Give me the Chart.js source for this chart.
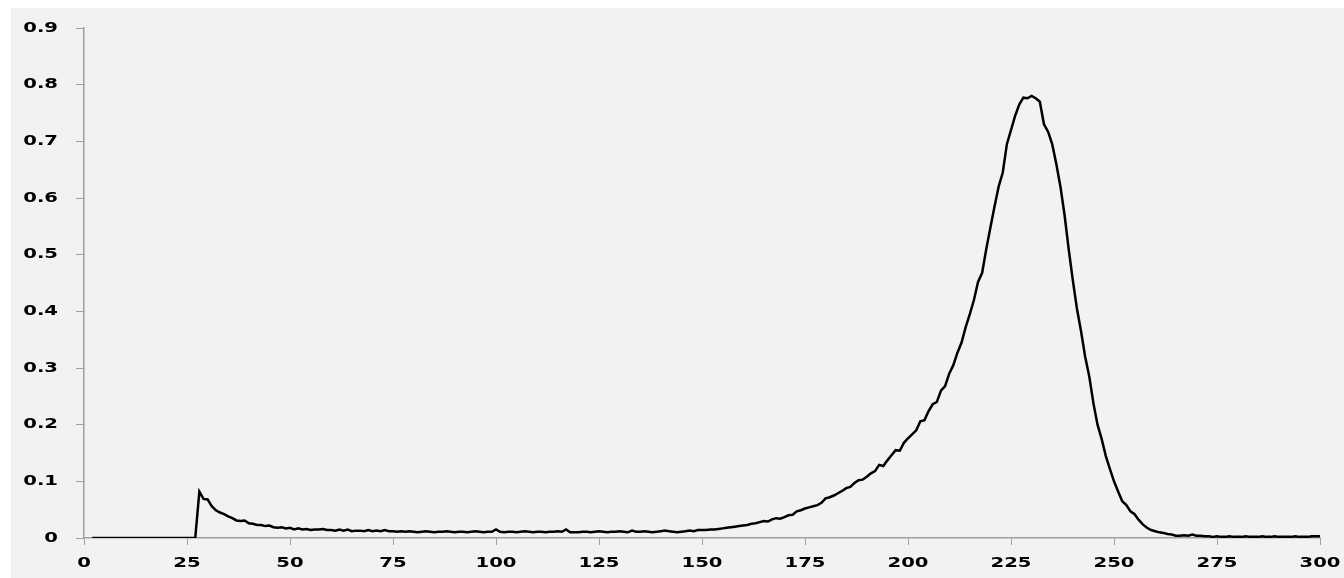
<!DOCTYPE html>
<html>
<head>
<meta charset="utf-8">
<script src="https://cdn.jsdelivr.net/npm/chart.js@4/dist/chart.umd.min.js"></script>
<style>
    html, body { margin: 0; padding: 0; background: #ffffff; }
    #wrap { position: absolute; left: 11px; top: 8px; width: 1333px; height: 570px; background: #f2f2f2; }
</style>
</head>
<body>
<div id="wrap"><canvas id="chartCurve"></canvas></div>
<script>
// values, one per day starting at day 2
var firstDay = 2;
var curveValues = [
    0, 0, 0, 0, 0, 0, 0, 0, 0, 0,
    0, 0, 0, 0, 0, 0, 0, 0, 0, 0,
    0, 0, 0, 0, 0, 0, 0.082, 0.069, 0.068, 0.056,
    0.049, 0.045, 0.042, 0.038, 0.035, 0.031, 0.030, 0.031, 0.026, 0.025,
    0.023, 0.023, 0.021, 0.022, 0.019, 0.018, 0.019, 0.017, 0.018, 0.015,
    0.017, 0.015, 0.016, 0.014, 0.015, 0.015, 0.016, 0.014, 0.014, 0.013,
    0.015, 0.013, 0.015, 0.012, 0.013, 0.013, 0.012, 0.014, 0.012, 0.013,
    0.012, 0.014, 0.012, 0.012, 0.011, 0.012, 0.011, 0.012, 0.011, 0.010,
    0.011, 0.012, 0.011, 0.010, 0.011, 0.011, 0.012, 0.011, 0.010, 0.011,
    0.011, 0.010, 0.011, 0.012, 0.011, 0.010, 0.011, 0.011, 0.015, 0.011,
    0.010, 0.011, 0.011, 0.010, 0.011, 0.012, 0.011, 0.010, 0.011, 0.011,
    0.010, 0.011, 0.011, 0.012, 0.011, 0.015, 0.010, 0.010, 0.010, 0.011,
    0.011, 0.010, 0.011, 0.012, 0.011, 0.010, 0.011, 0.011, 0.012, 0.011,
    0.010, 0.013, 0.011, 0.011, 0.012, 0.011, 0.010, 0.011, 0.012, 0.013,
    0.012, 0.011, 0.010, 0.011, 0.012, 0.013, 0.012, 0.014, 0.014, 0.014,
    0.015, 0.015, 0.016, 0.017, 0.018, 0.019, 0.020, 0.021, 0.022, 0.023,
    0.025, 0.026, 0.028, 0.030, 0.029, 0.033, 0.035, 0.034, 0.037, 0.040,
    0.041, 0.047, 0.049, 0.052, 0.054, 0.056, 0.058, 0.062, 0.070, 0.072,
    0.075, 0.079, 0.083, 0.088, 0.090, 0.097, 0.102, 0.103, 0.108, 0.114,
    0.118, 0.129, 0.127, 0.137, 0.146, 0.155, 0.154, 0.168, 0.176, 0.183,
    0.190, 0.206, 0.208, 0.224, 0.236, 0.240, 0.260, 0.268, 0.290, 0.305,
    0.327, 0.345, 0.372, 0.395, 0.420, 0.452, 0.468, 0.510, 0.548, 0.585,
    0.620, 0.645, 0.695, 0.720, 0.745, 0.765, 0.777, 0.776, 0.780, 0.776,
    0.770, 0.730, 0.717, 0.695, 0.660, 0.620, 0.570, 0.510, 0.455, 0.405,
    0.365, 0.320, 0.285, 0.238, 0.200, 0.175, 0.145, 0.122, 0.100, 0.082,
    0.065, 0.058, 0.047, 0.042, 0.032, 0.024, 0.018, 0.014, 0.012, 0.010,
    0.009, 0.007, 0.006, 0.004, 0.004, 0.005, 0.004, 0.006, 0.004, 0.004,
    0.003, 0.003, 0.002, 0.003, 0.002, 0.002, 0.003, 0.002, 0.002, 0.002,
    0.003, 0.002, 0.002, 0.002, 0.003, 0.002, 0.002, 0.003, 0.002, 0.002,
    0.002, 0.002, 0.003, 0.002, 0.002, 0.002, 0.003, 0.003, 0.003
];
var xTicks = [0, 25, 50, 75, 100, 125, 150, 175, 200, 225, 250, 275, 300];
var yTicks = [0, 0.1, 0.2, 0.3, 0.4, 0.5, 0.6, 0.7, 0.8, 0.9];
var yTickLabels = ['0', '0.1', '0.2', '0.3', '0.4', '0.5', '0.6', '0.7', '0.8', '0.9'];

var points = [];
for (var i = 0; i < curveValues.length; i++) {
    points.push({ x: firstDay + i, y: curveValues[i] });
}

var axisGray = '#a0a0a0';
var labelFont = 'bold 14px "DejaVu Sans"';
var stretch = 1.4;

// the labels in the picture are wide, so draw them stretched
var wideLabels = {
    id: 'wideLabels',
    afterDraw: function (chart) {
        var ctx = chart.ctx;
        var xs = chart.scales.x, ys = chart.scales.y;
        ctx.save();
        ctx.font = labelFont;
        ctx.fillStyle = '#000000';
        ctx.textBaseline = 'middle';
        ctx.textAlign = 'right';
        for (var i = 0; i < yTicks.length; i++) {
            ctx.save();
            ctx.translate(47, ys.getPixelForValue(yTicks[i]));
            ctx.scale(stretch, 1);
            ctx.fillText(yTickLabels[i], 0, 0);
            ctx.restore();
        }
        ctx.textAlign = 'center';
        for (var j = 0; j < xTicks.length; j++) {
            ctx.save();
            ctx.translate(xs.getPixelForValue(xTicks[j]), xs.bottom - 15);
            ctx.scale(stretch, 1);
            ctx.fillText(String(xTicks[j]), 0, 0);
            ctx.restore();
        }
        ctx.restore();
    }
};

var configCurve = {
    type: 'line',
    data: {
        datasets: [{
            data: points,
            borderColor: '#000000',
            borderWidth: 2.5,
            pointRadius: 0,
            tension: 0,
            fill: false
        }]
    },
    options: {
        responsive: true,
        maintainAspectRatio: false,
        animation: false,
        layout: { padding: { top: 20, right: 24, left: 0, bottom: 0 } },
        plugins: { legend: { display: false }, tooltip: { enabled: false } },
        scales: {
            x: {
                type: 'linear',
                min: 0,
                max: 300,
                afterFit: function (scale) { scale.height = 40; },
                afterBuildTicks: function (scale) {
                    scale.ticks = xTicks.map(function (v) { return { value: v }; });
                },
                ticks: { display: false },
                grid: { drawOnChartArea: false, drawTicks: true, tickLength: 7, color: axisGray, lineWidth: 1 },
                border: { display: true, color: axisGray, width: 1.5 }
            },
            y: {
                min: 0,
                max: 0.9,
                afterFit: function (scale) { scale.width = 73; },
                afterBuildTicks: function (scale) {
                    scale.ticks = yTicks.map(function (v) { return { value: v }; });
                },
                ticks: { display: false },
                grid: { drawOnChartArea: false, drawTicks: true, tickLength: 8, color: axisGray, lineWidth: 1 },
                border: { display: true, color: axisGray, width: 1.5 }
            }
        }
    },
    plugins: [wideLabels]
};

new Chart(document.getElementById('chartCurve').getContext('2d'), configCurve);
</script>
</body>
</html>
